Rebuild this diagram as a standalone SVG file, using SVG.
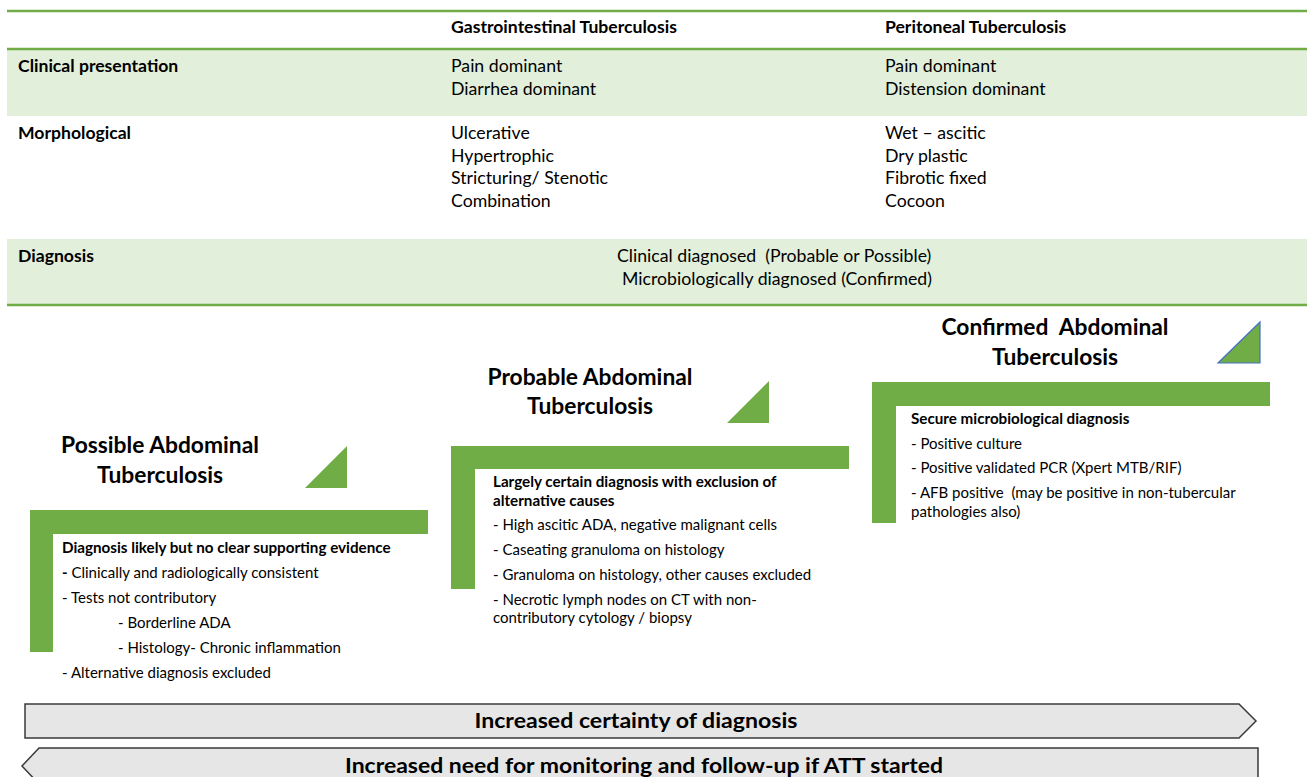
<svg xmlns="http://www.w3.org/2000/svg" width="1307" height="777" viewBox="0 0 1307 777">
<style>
text{font-family:Lato,"Liberation Sans",sans-serif;fill:#000}
.h{font-weight:bold;font-size:17.6px}
.t{font-size:17.7px}
.ti{font-weight:bold;font-size:22.8px;text-anchor:middle}
.b{font-weight:bold;font-size:15.2px}
.s{font-size:15px}
.ar{font-weight:bold;font-size:21px;text-anchor:middle}
.band{fill:#E2EFDA}
.rule{stroke:#70AD47;stroke-width:2.5}
.grn{fill:#70AD47}
.arrow{fill:#E7E6E6;stroke:#3a3a3a;stroke-width:1.5}
</style>
<g id="table">
<rect class="band" x="7" y="50" width="1300" height="66"/>
<rect class="band" x="7" y="239" width="1300" height="66"/>
<line class="rule" x1="7" y1="11" x2="1307" y2="11"/>
<line class="rule" x1="7" y1="49" x2="1307" y2="49"/>
<line class="rule" x1="7" y1="305" x2="1307" y2="305"/>
<text class="h" x="451" y="33">Gastrointestinal Tuberculosis</text>
<text class="h" x="885" y="33">Peritoneal Tuberculosis</text>
<text class="h" x="18" y="72">Clinical presentation</text>
<text class="t" x="451" y="72">Pain dominant</text>
<text class="t" x="451" y="95">Diarrhea dominant</text>
<text class="t" x="885" y="72">Pain dominant</text>
<text class="t" x="885" y="95">Distension dominant</text>
<text class="h" x="18" y="139">Morphological</text>
<text class="t" x="451" y="139">Ulcerative</text>
<text class="t" x="451" y="162">Hypertrophic</text>
<text class="t" x="451" y="184">Stricturing/ Stenotic</text>
<text class="t" x="451" y="207">Combination</text>
<text class="t" x="885" y="139">Wet – ascitic</text>
<text class="t" x="885" y="162">Dry plastic</text>
<text class="t" x="885" y="184">Fibrotic fixed</text>
<text class="t" x="885" y="207">Cocoon</text>
<text class="h" x="18" y="262">Diagnosis</text>
<text class="t" x="617" y="262" xml:space="preserve">Clinical diagnosed  (Probable or Possible)</text>
<text class="t" x="622" y="285">Microbiologically diagnosed (Confirmed)</text>
</g>
<g id="possible">
<text class="ti" x="160" y="453">Possible Abdominal</text>
<text class="ti" x="160" y="483">Tuberculosis</text>
<polygon class="grn" points="305,488 347,488 347,446"/>
<path class="grn" d="M30,510 H428 V534 H53 V652 H30 Z"/>
<text class="b" x="62" y="553">Diagnosis likely but no clear supporting evidence</text>
<text class="s" x="62" y="578"><tspan font-weight="bold">-</tspan> Clinically and radiologically consistent</text>
<text class="s" x="62" y="603">- Tests not contributory</text>
<text class="s" x="118" y="628">- Borderline ADA</text>
<text class="s" x="118" y="653">- Histology- Chronic inflammation</text>
<text class="s" x="62" y="678">- Alternative diagnosis excluded</text>
</g>
<g id="probable">
<text class="ti" x="590" y="385">Probable Abdominal</text>
<text class="ti" x="590" y="414">Tuberculosis</text>
<polygon class="grn" points="727,423 769,423 769,381"/>
<path class="grn" d="M451,446 H849 V469 H475 V589 H451 Z"/>
<text class="b" x="493" y="487">Largely certain diagnosis with exclusion of</text>
<text class="b" x="493" y="506">alternative causes</text>
<text class="s" x="493" y="530">- High ascitic ADA, negative malignant cells</text>
<text class="s" x="493" y="555">- Caseating granuloma on histology</text>
<text class="s" x="493" y="580">- Granuloma on histology, other causes excluded</text>
<text class="s" x="493" y="605">- Necrotic lymph nodes on CT with non-</text>
<text class="s" x="493" y="623">contributory cytology / biopsy</text>
</g>
<g id="confirmed">
<text class="ti" x="1055" y="335" xml:space="preserve">Confirmed  Abdominal</text>
<text class="ti" x="1055" y="365">Tuberculosis</text>
<polygon class="grn" points="1218,363 1260,363 1260,322" stroke="#4472C4" stroke-width="1.2"/>
<path class="grn" d="M872,382 H1270 V406 H896 V523 H872 Z"/>
<text class="b" x="911" y="424">Secure microbiological diagnosis</text>
<text class="s" x="911" y="449">- Positive culture</text>
<text class="s" x="911" y="473">- Positive validated PCR (Xpert MTB/RIF)</text>
<text class="s" x="911" y="498" xml:space="preserve">- AFB positive  (may be positive in non-tubercular</text>
<text class="s" x="911" y="517">pathologies also)</text>
</g>
<g id="connectors">
<polygon class="arrow" points="25,704 1239,704 1256,721 1239,738 25,738"/>
<text class="ar" x="636" y="728" textLength="323" lengthAdjust="spacingAndGlyphs">Increased certainty of diagnosis</text>
<polygon class="arrow" points="39,748 1258,748 1258,784 39,784 22,766"/>
<text class="ar" x="644" y="773" textLength="598" lengthAdjust="spacingAndGlyphs">Increased need for monitoring and follow-up if ATT started</text>
</g>
</svg>
